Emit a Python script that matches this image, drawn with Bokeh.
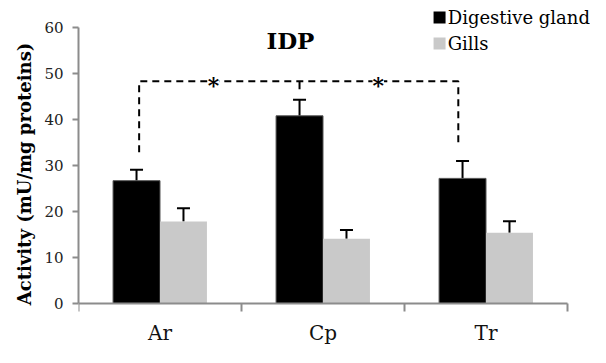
from bokeh.plotting import figure
from bokeh.models import (Range1d, LinearAxis, FixedTicker, Whisker, TeeHead,
                          ColumnDataSource, Label)
from bokeh.core.properties import value
from bokeh.embed import file_html
from bokeh.resources import INLINE

categories = ["Ar", "Cp", "Tr"]
digestive = [26.7, 40.8, 27.2]
digestive_err = [2.4, 3.5, 3.8]
gills = [17.8, 14.1, 15.4]
gills_err = [2.9, 1.9, 2.5]
y_ticks = [0, 10, 20, 30, 40, 50, 60]
series_names = ["Digestive gland", "Gills"]

# significance bracket (data units)
bracket_top = 48.3
bracket_left_bottom = 32.9
bracket_mid_bottom = 46.6
bracket_right_bottom = 34.0
stars = ["*", "*"]

SERIF = "DejaVu Serif"
AXIS_GRAY = "#8c8c8c"
GRAY = "#c9c9c9"
colors = ["black", GRAY]

p = figure(width=590, height=347, output_backend="svg", toolbar_location=None,
           x_range=Range1d(0, 3.141), y_range=Range1d(-9.565, 65.87),
           x_axis_type=None, y_axis_type=None,
           min_border_left=78, min_border_right=0, min_border_top=0,
           min_border_bottom=0)
p.outline_line_color = None
p.xgrid.visible = False
p.ygrid.visible = False
p.background_fill_color = "white"
p.border_fill_color = "white"

idx = list(range(len(categories)))
bw = 0.288
xd = [i + 0.356 for i in idx]
xg = [i + 0.644 for i in idx]

p.vbar(x=xd, top=digestive, width=bw, fill_color=colors[0], line_color="#555555", line_width=1)
p.vbar(x=xg, top=gills, width=bw, fill_color=colors[1], line_color=None)

for xs, vals, errs in ((xd, digestive, digestive_err), (xg, gills, gills_err)):
    src = ColumnDataSource(dict(x=xs, lo=vals, hi=[v + e for v, e in zip(vals, errs)]))
    w = Whisker(base="x", lower="lo", upper="hi", source=src, line_color="black",
                line_width=2, upper_head=TeeHead(size=13, line_width=2, line_color="black"),
                lower_head=None)
    p.add_layout(w)

# y axis
yax = LinearAxis(ticker=FixedTicker(ticks=y_ticks, minor_ticks=[]), bounds=(0, 60))
yax.axis_line_color = AXIS_GRAY
yax.axis_line_width = 2
yax.major_tick_line_color = AXIS_GRAY
yax.major_tick_line_width = 2
yax.major_tick_in = 0
yax.major_tick_out = 6
yax.major_label_text_font = SERIF
yax.major_label_text_font_size = "15px"
yax.major_label_text_color = "#222222"
yax.major_label_standoff = 9
yax.axis_label = "Activity (mU/mg proteins)"
yax.axis_label_text_font = SERIF
yax.axis_label_text_font_style = "bold"
yax.axis_label_text_font_size = "18px"
yax.axis_label_text_color = "black"
yax.axis_label_standoff = 6
p.add_layout(yax, "left")

# x axis (drawn at y = 0)
centers = [i + 0.5 for i in idx]
xax = LinearAxis(ticker=FixedTicker(ticks=centers, minor_ticks=[0, 1, 2, 3]),
                 bounds=(0, 3), fixed_location=0)
xax.major_label_overrides = {c: name for c, name in zip(centers, categories)}
xax.axis_line_color = AXIS_GRAY
xax.axis_line_width = 2
xax.major_tick_line_color = None
xax.major_tick_in = 0
xax.major_tick_out = 0
xax.minor_tick_line_color = AXIS_GRAY
xax.minor_tick_line_width = 2
xax.minor_tick_in = 0
xax.minor_tick_out = 8
xax.major_label_text_font = SERIF
xax.major_label_text_font_size = "20px"
xax.major_label_text_color = "#111111"
xax.major_label_standoff = 9
p.add_layout(xax, "below")

# bracket
bx_left = 0.372
bx_mid = 1.356
bx_right = 2.33
p.line([bx_left, bx_left, bx_right, bx_right],
       [bracket_left_bottom, bracket_top, bracket_top, bracket_right_bottom],
       line_color="black", line_width=2, line_dash="7 5")
p.line([bx_mid, bx_mid], [bracket_top, bracket_mid_bottom], line_color="black", line_width=2)
for sx, s in zip([0.828, 1.839], stars):
    p.add_layout(Label(x=sx, y=bracket_top, text=s, text_font=SERIF, text_font_size="22px",
                       text_font_style="bold", text_color="black", text_align="center",
                       text_baseline="middle", y_offset=-4,
                       background_fill_color="white", background_fill_alpha=1.0))

# title
p.add_layout(Label(x=1.30, y=57.2, text="IDP", text_font=SERIF, text_font_size="23px",
                   text_font_style="bold", text_color="black", text_align="center",
                   text_baseline="middle"))

# legend
leg_x = 2.215
leg_y = [62.17, 56.52]
p.scatter(x=[leg_x] * 2, y=leg_y, marker="square", size=12, fill_color=colors,
          line_color=None)
p.text(x=[leg_x + 0.05] * 2, y=leg_y, text=series_names, text_font=value(SERIF),
       text_font_size="18px", text_color="black", text_baseline="middle",
       text_align="left")

open("out.html", "w").write(file_html(p, INLINE))
